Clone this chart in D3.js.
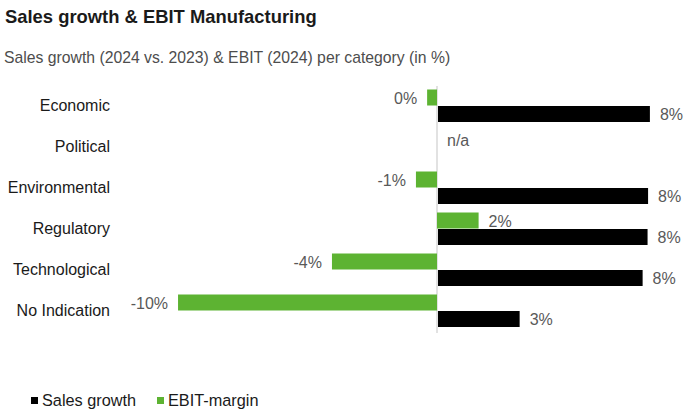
<!DOCTYPE html>
<html>
<head>
<meta charset="utf-8">
<script src="https://cdn.jsdelivr.net/npm/d3@7"></script>
<style>
  body { margin: 0; background: #fff; }
  svg { font-family: "Liberation Sans", Arial, sans-serif; }
</style>
</head>
<body>
<svg id="chart"></svg>
<script>
// data
const categories = ['Economic', 'Political', 'Environmental', 'Regulatory', 'Technological', 'No Indication'];
const salesGrowth = [8.15, null, 8.08, 8.06, 7.87, 3.14];
const ebitMargin = [-0.38, null, -0.81, 1.6, -4.04, -9.96];
const seriesNames = ['Sales growth', 'EBIT-margin'];

const width = 700, height = 418;
const green = '#5db332';
const labelGrey = '#595959';

let svg = d3.select('#chart')
    .attr('width', width)
    .attr('height', height);

svg.append('text')
    .attr('x', 5).attr('y', 23)
    .attr('font-size', 18.4)
    .attr('font-weight', 'bold')
    .attr('fill', '#1a1a1a')
    .text('Sales growth & EBIT Manufacturing');

svg.append('text')
    .attr('x', 4).attr('y', 63)
    .attr('font-size', 15.75)
    .attr('fill', '#4d4d4d')
    .text('Sales growth (2024 vs. 2023) & EBIT (2024) per category (in %)');

const x = d3.scaleLinear()
    .domain([-10, 8])
    .range([177, 645]);

const y = d3.scaleBand()
    .domain(categories)
    .range([85, 331]);

const barH = 16;

let rows = categories.map((c, i) => ({cat: c, sales: salesGrowth[i], ebit: ebitMargin[i]}));

// category labels
svg.append('g')
    .selectAll('text')
    .data(categories)
    .enter()
    .append('text')
        .attr('x', 110)
        .attr('y', d => y(d) + y.bandwidth() / 2)
        .attr('dy', '0.35em')
        .attr('text-anchor', 'end')
        .attr('font-size', 16)
        .attr('fill', '#1a1a1a')
        .text(d => d);

// zero line
svg.append('line')
    .attr('x1', x(0)).attr('x2', x(0))
    .attr('y1', 86).attr('y2', 333)
    .attr('stroke', '#cfcfcf')
    .attr('stroke-width', 1.2);

let mid = d => y(d.cat) + y.bandwidth() / 2;

// EBIT bars (above)
svg.append('g')
    .selectAll('rect')
    .data(rows.filter(d => d.ebit != null))
    .enter()
    .append('rect')
        .attr('x', d => x(Math.min(0, d.ebit)))
        .attr('width', d => Math.abs(x(d.ebit) - x(0)))
        .attr('y', d => mid(d) - barH)
        .attr('height', barH)
        .attr('fill', green);

// Sales bars (below)
svg.append('g')
    .selectAll('rect')
    .data(rows.filter(d => d.sales != null))
    .enter()
    .append('rect')
        .attr('x', d => x(Math.min(0, d.sales)) + 1)
        .attr('width', d => Math.abs(x(d.sales) - x(0)))
        .attr('y', d => mid(d) + 0.5)
        .attr('height', barH)
        .attr('fill', '#000');

let fmt = v => Math.round(v) === 0 ? '0%' : Math.round(v) + '%';

// EBIT labels
svg.append('g')
    .selectAll('text')
    .data(rows.filter(d => d.ebit != null))
    .enter()
    .append('text')
        .attr('x', d => d.ebit < 0 ? x(d.ebit) - 10 : x(d.ebit) + 10)
        .attr('y', d => mid(d) - barH / 2 + 1)
        .attr('dy', '0.35em')
        .attr('text-anchor', d => d.ebit < 0 ? 'end' : 'start')
        .attr('font-size', 16)
        .attr('fill', labelGrey)
        .text(d => fmt(d.ebit));

// Sales labels
svg.append('g')
    .selectAll('text')
    .data(rows.filter(d => d.sales != null))
    .enter()
    .append('text')
        .attr('x', d => x(d.sales) + 11)
        .attr('y', d => mid(d) + barH / 2 + 1)
        .attr('dy', '0.35em')
        .attr('font-size', 16)
        .attr('fill', labelGrey)
        .text(d => fmt(d.sales));

// n/a for missing
svg.append('g')
    .selectAll('text')
    .data(rows.filter(d => d.sales == null && d.ebit == null))
    .enter()
    .append('text')
        .attr('x', x(0) + 10)
        .attr('y', d => mid(d) - 6)
        .attr('dy', '0.35em')
        .attr('font-size', 16)
        .attr('fill', labelGrey)
        .text('n/a');

// legend
let legend = svg.append('g')
    .selectAll('g')
    .data(seriesNames)
    .enter()
    .append('g')
        .attr('transform', (d, i) => `translate(${i === 0 ? 31 : 157},397)`);

legend.append('rect')
    .attr('width', 7).attr('height', 7)
    .attr('fill', (d, i) => i === 0 ? '#000' : green);

legend.append('text')
    .attr('x', 11)
    .attr('y', 3.5)
    .attr('dy', '0.35em')
    .attr('font-size', 16.3)
    .attr('fill', '#1a1a1a')
    .text(d => d);
</script>
</body>
</html>
